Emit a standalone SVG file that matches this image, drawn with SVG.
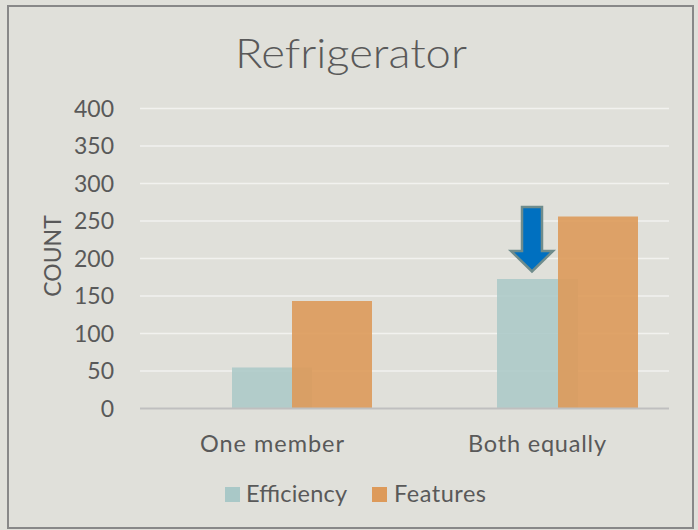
<svg xmlns="http://www.w3.org/2000/svg" width="698" height="530" viewBox="0 0 698 530">
<style>
text{font-family:Lato,"Open Sans","Liberation Sans",sans-serif;fill:#595959}
.ax{font-size:23px;text-anchor:end}
.cat{font-size:23.5px;text-anchor:middle}
.grid{stroke:#f2f2ef;stroke-width:1.5}
.eff{fill:#a9c8c7;fill-opacity:0.85}
.fea{fill:#dd9a5a;fill-opacity:0.9}
</style>
<rect x="0" y="0" width="698" height="530" fill="#e0e0da"/>
<rect x="8" y="6" width="685" height="522" fill="none" stroke="#888888" stroke-width="2"/>
<text x="351" y="67.5" font-size="42" font-weight="300" text-anchor="middle" textLength="232" lengthAdjust="spacingAndGlyphs">Refrigerator</text>
<g id="grid">
<line class="grid" x1="140" y1="108.5" x2="669" y2="108.5"/>
<line class="grid" x1="140" y1="146" x2="669" y2="146"/>
<line class="grid" x1="140" y1="183.5" x2="669" y2="183.5"/>
<line class="grid" x1="140" y1="221" x2="669" y2="221"/>
<line class="grid" x1="140" y1="258.5" x2="669" y2="258.5"/>
<line class="grid" x1="140" y1="296" x2="669" y2="296"/>
<line class="grid" x1="140" y1="333.5" x2="669" y2="333.5"/>
<line class="grid" x1="140" y1="371" x2="669" y2="371"/>
</g>
<g id="yaxis">
<text class="ax" x="114" y="116.5">400</text>
<text class="ax" x="114" y="154">350</text>
<text class="ax" x="114" y="191.5">300</text>
<text class="ax" x="114" y="229">250</text>
<text class="ax" x="114" y="266.5">200</text>
<text class="ax" x="114" y="304">150</text>
<text class="ax" x="114" y="341.5">100</text>
<text class="ax" x="114" y="379">50</text>
<text class="ax" x="114" y="416.5">0</text>
<text x="61" y="256" font-size="23" text-anchor="middle" transform="rotate(-90 61 256)">COUNT</text>
</g>
<g id="bars">
<rect id="eff-one" class="eff" x="232" y="367.5" width="80" height="41"/>
<rect id="fea-one" class="fea" x="292" y="301" width="80" height="107.5"/>
<rect id="eff-both" class="eff" x="497" y="279" width="81" height="129.5"/>
<rect id="fea-both" class="fea" x="558" y="216.5" width="80" height="192"/>
</g>
<line x1="140" y1="408.5" x2="669" y2="408.5" stroke="#bfbfbf" stroke-width="2"/>
<g id="arrow">
<polygon points="522,207 542,207 542,251 553,251 532,271.5 511,251 522,251" fill="#0070c0" stroke="#6f8c8c" stroke-width="2.5" stroke-linejoin="miter"/>
</g>
<g id="xaxis">
<text class="cat" x="272" y="451.5" textLength="144">One member</text>
<text class="cat" x="537" y="451.5" textLength="138">Both equally</text>
</g>
<g id="legend">
<rect x="225" y="487" width="15" height="15" fill="#a9c8c7"/>
<text x="246" y="501.5" font-size="23.5" textLength="101">Efficiency</text>
<rect x="372" y="487" width="15" height="15" fill="#dd9a5a"/>
<text x="394" y="501.5" font-size="23.5" textLength="92">Features</text>
</g>
</svg>
